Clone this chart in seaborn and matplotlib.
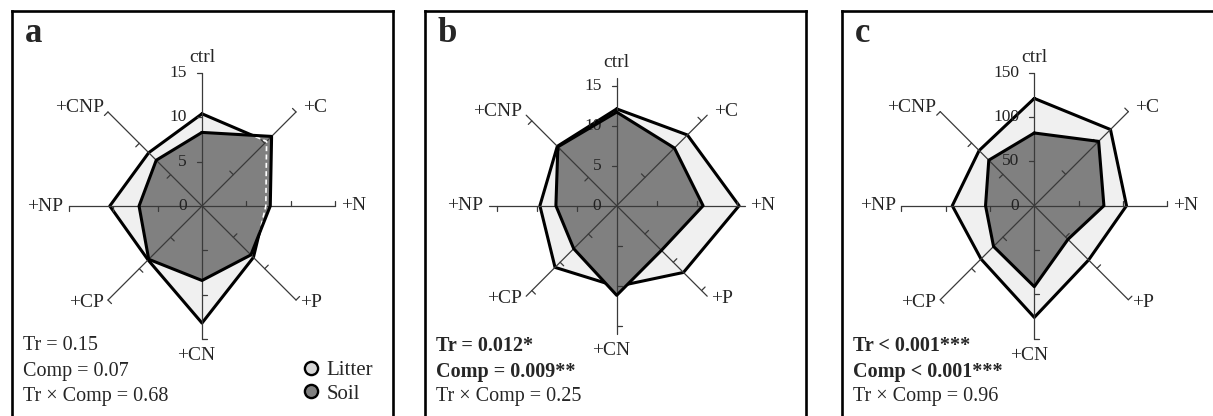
import numpy as np
import matplotlib
matplotlib.use("Agg")
import matplotlib.pyplot as plt
import seaborn as sns
from matplotlib.lines import Line2D

# spoke order, clockwise from the top
categories = ["ctrl", "+C", "+N", "+P", "+CN", "+CP", "+NP", "+CNP"]

litter_a = [10.4, 10.3, 7.2, 8.2, 13.2, 8.6, 10.4, 8.5]
soil_a = [8.3, 11.1, 7.7, 7.8, 8.4, 8.5, 7.1, 7.3]
litter_b = [12.1, 12.5, 15.3, 11.8, 10.1, 10.9, 9.6, 10.5]
soil_b = [11.7, 10.2, 10.8, 7.9, 11.2, 7.6, 7.6, 10.4]
litter_c = [121, 121.5, 104, 86.6, 126, 85, 92.5, 88]
soil_c = [82, 102.6, 78.5, 53.7, 91.3, 65, 55, 72.6]

ticks_a = [0, 5, 10, 15]
ticks_b = [0, 5, 10, 15]
ticks_c = [0, 50, 100, 150]

stats_a = [("Tr = 0.15", "normal"), ("Comp = 0.07", "normal"), ("Tr \u00d7 Comp = 0.68", "normal")]
stats_b = [("Tr = 0.012*", "bold"), ("Comp = 0.009**", "bold"), ("Tr \u00d7 Comp = 0.25", "normal")]
stats_c = [("Tr < 0.001***", "bold"), ("Comp < 0.001***", "bold"), ("Tr \u00d7 Comp = 0.96", "normal")]

sns.set_theme(style="white")
plt.rcParams["font.family"] = ["Liberation Serif", "DejaVu Serif"]

LITTER = "#f0f0f0"
SOIL = "#808080"
SPOKE = "#3a3a3a"

W, H = 1213, 416
TOP = 11
fig = plt.figure(figsize=(W / 100, H / 100), dpi=100)

theta = np.arange(len(categories)) * np.pi / 4

# label placement per spoke: (ha, va, dx, dy) in points
label_pos = [("center", "bottom", 0, 5), ("left", "center", 5, 3), ("left", "center", 4, 0),
             ("left", "center", 3, -2), ("center", "top", -4, -6), ("right", "center", -3, -2),
             ("right", "center", -4, 0), ("right", "center", -3, 3)]


def xy(vals):
    r = np.asarray(vals, dtype=float)
    return r * np.sin(theta), r * np.cos(theta)


def radar(letter, litter, soil, ticks, rmax, box, center, span, stats, legend=False, dashed=False):
    L, R = box
    cx, cy = center
    s = span / rmax
    ax = fig.add_axes([L / W, 0, (R - L) / W, (H - TOP) / H])
    ax.set_xlim((L - cx) / s, (R - cx) / s)
    ax.set_ylim((cy - H) / s, (cy - TOP) / s)
    ax.set_xticks([])
    ax.set_yticks([])
    ax.spines["bottom"].set_visible(False)
    for sp in ["top", "left", "right"]:
        ax.spines[sp].set_linewidth(1.9)
        ax.spines[sp].set_color("black")

    lx, ly = xy(litter)
    sx, sy = xy(soil)
    lxc, lyc = np.append(lx, lx[0]), np.append(ly, ly[0])
    sxc, syc = np.append(sx, sx[0]), np.append(sy, sy[0])

    ax.fill(lx, ly, color=LITTER, zorder=1, lw=0)
    sns.lineplot(x=lxc, y=lyc, sort=False, estimator=None, color="black", lw=2.2, ax=ax, zorder=1.5)
    soil_patch = ax.fill(sx, sy, color=SOIL, zorder=2, lw=0)[0]

    # spokes with perpendicular tick marks
    tl = 5 / s
    for k, t in enumerate(theta):
        d = np.array([np.sin(t), np.cos(t)])
        p = np.array([-np.cos(t), np.sin(t)])
        ax.plot([0, rmax * d[0]], [0, rmax * d[1]], color=SPOKE, lw=0.9, zorder=3)
        for v in ticks[1:]:
            a = v * d
            b = a + tl * p
            ax.plot([a[0], b[0]], [a[1], b[1]], color=SPOKE, lw=0.9, zorder=3)
        ha, va, dx, dy = label_pos[k]
        ax.annotate(categories[k], xy=(rmax * d[0], rmax * d[1]), xytext=(dx, dy),
                    textcoords="offset points", ha=ha, va=va, fontsize=14, zorder=8)

    for v in ticks:
        ax.annotate(str(v), xy=(0, v), xytext=(-11, 0), textcoords="offset points",
                    ha="right", va="center", fontsize=12.5, color="#222222", zorder=4)

    if dashed:
        ln = ax.plot(lxc, lyc, color="white", lw=1.2, ls=(0, (3, 2)), zorder=5)[0]
        ln.set_clip_path(soil_patch)

    sns.lineplot(x=sxc, y=syc, sort=False, estimator=None, color="black", lw=2.2, ax=ax, zorder=6)

    wpx = R - L
    hpx = H - TOP
    ax.text(13 / wpx, (H - 33) / hpx, letter, transform=ax.transAxes,
            fontsize=25, fontweight="bold", ha="left", va="center")
    for i, (txt, wt) in enumerate(stats):
        ax.text(11 / wpx, (H - (346 + 25.5 * i)) / hpx, txt, transform=ax.transAxes,
                fontsize=14.5, fontweight=wt, ha="left", va="center", zorder=9)

    if legend:
        handles = [Line2D([], [], ls="", marker="o", markersize=9.5, markerfacecolor=c,
                          markeredgecolor="black", markeredgewidth=1.7) for c in ["#d6d6d6", SOIL]]
        ax.legend(handles, ["Litter", "Soil"], loc="lower right", bbox_to_anchor=(0.975, 0.005),
                  frameon=False, fontsize=15, handlelength=0.8, handletextpad=0.35,
                  labelspacing=0.2, borderpad=0)
    return ax


radar("a", litter_a, soil_a, ticks_a, 15, (12, 393), (202, 206), 133, stats_a, legend=True, dashed=True)
radar("b", litter_b, soil_b, ticks_b, 16, (425, 806), (616.7, 205.7), 128, stats_b)
radar("c", litter_c, soil_c, ticks_c, 150, (842, 1240), (1034.3, 205.7), 133, stats_c)

fig.savefig("out.png", dpi=100)
